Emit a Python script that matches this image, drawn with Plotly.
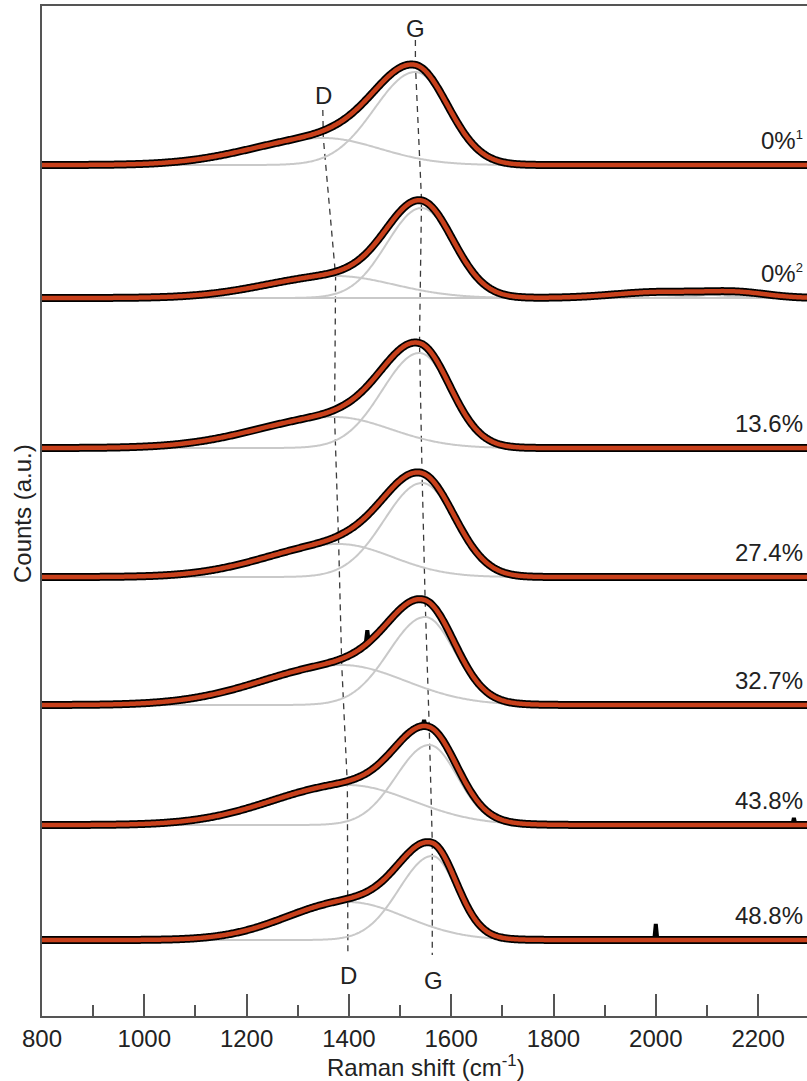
import numpy as np
import plotly.graph_objects as go

# ---------------- data ----------------
sample_labels = ["0%<sup><span style='font-size:13px'>1</span></sup>",
                 "0%<sup><span style='font-size:13px'>2</span></sup>",
                 "13.6%", "27.4%", "32.7%", "43.8%", "48.8%"]

# D band (broad, asymmetric)
d_center = [1350, 1374, 1372, 1380, 1386, 1397, 1398]
d_height = [27, 22, 31, 33, 40, 40, 38]
d_width_left = [140, 135, 150, 140, 155, 148, 120]
d_width_right = [110, 115, 110, 105, 124, 127, 113]

# G band
g_center = [1530, 1542, 1538, 1543, 1549, 1557, 1563]
g_height = [93, 90, 95, 94, 88, 80, 84]
g_width_left = [80, 68, 73, 74, 71, 65, 65]
g_width_right = [64, 62, 60, 64, 58, 55, 47]

# weak extra bands present only in the 0%^2 spectrum
extra_spectrum = 1
extra_center = [2010, 2160]
extra_height = [6, 5]
extra_width = [90, 60]

# isolated spikes in the raw data
spike_spectrum = [4, 5, 6, 5]
spike_x = [1436, 1547, 2000, 2270]
spike_height = [13, 6, 16, 7]

x_ticks = [800, 1000, 1200, 1400, 1600, 1800, 2000, 2200]

# ---------------- layout constants ----------------
stack_offset = [851, 718, 568, 439, 311, 191, 76]
X_MAX = 2295.6
FONT = "Liberation Sans, Arial, Helvetica, sans-serif"
RED = "#c8401b"
GREY = "#c9c9c9"
AXIS = "#555555"

x = np.arange(800, 2300.1, 2.0)


def asym_band(xv, c, h, wl, wr):
    w = np.where(xv < c, wl, wr)
    return h * np.exp(-0.5 * ((xv - c) / w) ** 2)


fig = go.Figure()

components = []
fits = []
for i in range(len(sample_labels)):
    comps = [asym_band(x, d_center[i], d_height[i], d_width_left[i], d_width_right[i]),
             asym_band(x, g_center[i], g_height[i], g_width_left[i], g_width_right[i])]
    if i == extra_spectrum:
        for c, h, w in zip(extra_center, extra_height, extra_width):
            comps.append(asym_band(x, c, h, w, w))
    components.append(comps)
    fits.append(sum(comps))

# dashed guide lines through the band positions
d_line_x = [1349] + d_center + [1398]
d_line_y = [906] + [stack_offset[i] + d_height[i] for i in range(7)] + [61]
g_line_x = [1530] + g_center + [1563]
g_line_y = [976] + [stack_offset[i] + float(fits[i].max()) for i in range(7)] + [61]
for lx, ly in ((d_line_x, d_line_y), (g_line_x, g_line_y)):
    fig.add_trace(go.Scatter(x=lx, y=ly, mode="lines",
                             line=dict(color="#3a3a3a", width=1.3, dash="6px,5px"),
                             hoverinfo="skip", showlegend=False))

for i in range(len(sample_labels)):
    off = stack_offset[i]
    for comp in components[i]:
        fig.add_trace(go.Scatter(x=x, y=comp + off, mode="lines",
                                 line=dict(color=GREY, width=2, simplify=False),
                                 hoverinfo="skip", showlegend=False))
    # raw data (black)
    fig.add_trace(go.Scatter(x=x, y=fits[i] + off, mode="lines",
                             line=dict(color="#000000", width=8, simplify=False),
                             hoverinfo="skip", showlegend=False))

# spikes in the raw data
for s, sx, sh in zip(spike_spectrum, spike_x, spike_height):
    base = float(np.interp(sx, x, fits[s])) + stack_offset[s]
    fig.add_trace(go.Scatter(x=[sx - 3, sx, sx + 3], y=[base, base + sh, base], mode="lines",
                             line=dict(color="#000000", width=4),
                             hoverinfo="skip", showlegend=False))

for i in range(len(sample_labels)):
    fig.add_trace(go.Scatter(x=x, y=fits[i] + stack_offset[i], mode="lines",
                             line=dict(color=RED, width=4.5, simplify=False),
                             hoverinfo="skip", showlegend=False))

annotations = []
for i, lab in enumerate(sample_labels):
    annotations.append(dict(x=2291, y=stack_offset[i] + 25, text=lab, showarrow=False,
                            xanchor="right", yanchor="middle",
                            font=dict(size=24, color="#222222", family=FONT)))

for t, ax_, ay_ in (("G", 1530, 988), ("D", 1350, 921), ("D", 1399, 41), ("G", 1565, 36)):
    annotations.append(dict(x=ax_, y=ay_, text=t, showarrow=False,
                            xanchor="center", yanchor="middle",
                            font=dict(size=24, color="#222222", family=FONT)))

annotations.append(dict(x=1551, y=-0.0495, xref="x", yref="paper",
                        text="Raman shift (cm<sup>-1</sup>)", showarrow=False,
                        xanchor="center", yanchor="middle",
                        font=dict(size=24, color="#222222", family=FONT)))
annotations.append(dict(x=0, y=0.497, xref="paper", yref="paper", xshift=-20,
                        text="Counts (a.u.)", textangle=-90, showarrow=False,
                        xanchor="center", yanchor="middle",
                        font=dict(size=24, color="#222222", family=FONT)))

fig.update_layout(
    width=807, height=1081,
    margin=dict(l=42, r=0, t=6, b=65),
    paper_bgcolor="white", plot_bgcolor="white",
    showlegend=False,
    annotations=annotations,
    xaxis=dict(range=[800, X_MAX], tickvals=x_ticks, ticks="inside", ticklen=22,
               tickwidth=1.5, tickcolor=AXIS, showline=True, linecolor=AXIS,
               linewidth=1.5, mirror=True, showgrid=False, zeroline=False,
               tickfont=dict(size=24, color="#222222", family=FONT),
               minor=dict(tick0=800, dtick=100, ticks="inside", ticklen=11,
                          tickwidth=1.5, tickcolor=AXIS, showgrid=False)),
    yaxis=dict(range=[0, 1010], showline=True, linecolor=AXIS, linewidth=1.5,
               showticklabels=False, ticks="", showgrid=False, zeroline=False),
)

fig.write_html("out.html", config={"displayModeBar": False},
               post_script="document.body.style.margin='0';document.body.style.overflow='hidden';")
